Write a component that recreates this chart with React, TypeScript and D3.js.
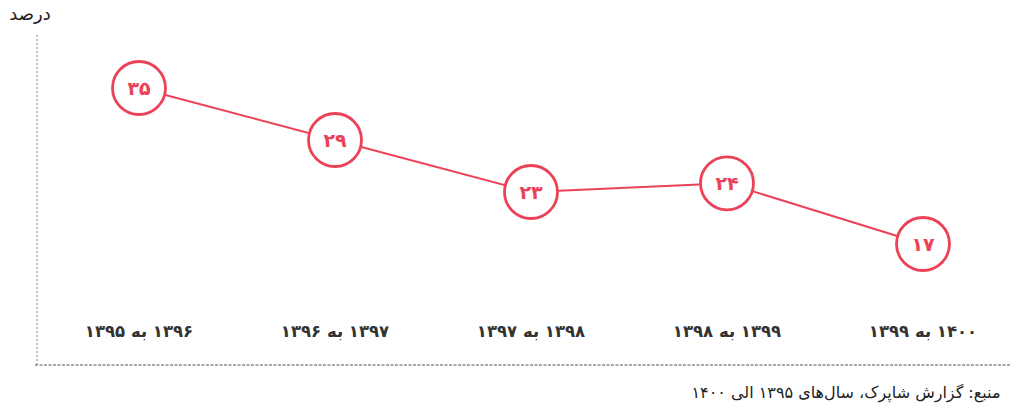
import React, { useEffect, useRef } from "react";
import * as d3 from "d3";

const periods = [
  "۱۳۹۶ به ۱۳۹۵",
  "۱۳۹۷ به ۱۳۹۶",
  "۱۳۹۸ به ۱۳۹۷",
  "۱۳۹۹ به ۱۳۹۸",
  "۱۴۰۰ به ۱۳۹۹",
];
const values = [35, 29, 23, 24, 17];
const valueLabels = ["۳۵", "۲۹", "۲۳", "۲۴", "۱۷"];
const yTitle = "درصد";
const sourceNote = "منبع: گزارش شاپرک، سال‌های ۱۳۹۵ الی ۱۴۰۰";

const App: React.FC = () => {
  const svgRef = useRef<SVGSVGElement | null>(null);
  const red = "#ec4257";
  const font = "'DejaVu Sans', sans-serif";

  useEffect(() => {
    const svg = d3.select(svgRef.current);
    svg.selectAll("*").remove();

    const x = d3.scalePoint<string>().domain(periods).range([139, 923]);
    const y = d3.scaleLinear().domain([17, 35]).range([244, 88]);

    // axes (dotted)
    svg.append("line")
      .attr("x1", 37).attr("x2", 37).attr("y1", 35).attr("y2", 365)
      .attr("stroke", "#888").attr("stroke-width", 1).attr("stroke-dasharray", "2,2");
    svg.append("line")
      .attr("x1", 35).attr("x2", 1010).attr("y1", 365).attr("y2", 365)
      .attr("stroke", "#555").attr("stroke-width", 1.2).attr("stroke-dasharray", "3,1.5");

    svg.append("text")
      .attr("x", 30).attr("y", 20)
      .attr("text-anchor", "middle")
      .style("font-family", font).style("font-size", "18px").style("fill", "#222")
      .text(yTitle);

    const line = d3.line<number>()
      .x((_, i) => x(periods[i])!)
      .y((d) => y(d));

    svg.append("path")
      .datum(values)
      .attr("fill", "none")
      .attr("stroke", red)
      .attr("stroke-width", 2)
      .attr("d", line);

    const pts = svg.selectAll("g.pt").data(values).enter().append("g")
      .attr("transform", (d, i) => `translate(${x(periods[i])},${y(d)})`);
    pts.append("circle")
      .attr("r", 26.5)
      .attr("fill", "#fff")
      .attr("stroke", red)
      .attr("stroke-width", 2.8);
    pts.append("text")
      .attr("text-anchor", "middle")
      .attr("dy", "0.35em")
      .style("font-family", font).style("font-size", "19px").style("font-weight", "bold")
      .style("fill", red)
      .text((_, i) => valueLabels[i]);

    svg.selectAll("text.cat").data(periods).enter().append("text")
      .attr("class", "cat")
      .attr("x", (d) => x(d)!)
      .attr("y", 337)
      .attr("text-anchor", "middle")
      .attr("direction", "rtl")
      .style("font-family", font).style("font-size", "16.5px").style("font-weight", "bold")
      .style("fill", "#333")
      .text((d) => d);

    svg.append("text")
      .attr("x", 846).attr("y", 398)
      .attr("text-anchor", "middle")
      .attr("direction", "rtl")
      .style("font-family", font).style("font-size", "16px").style("fill", "#222")
      .text(sourceNote);
  }, []);

  return (
    <div>
      <svg ref={svgRef} width={1016} height={412}
        style={{ position: "absolute", left: 0, top: 0, background: "#fff" }}></svg>
    </div>
  );
};

export default App;
